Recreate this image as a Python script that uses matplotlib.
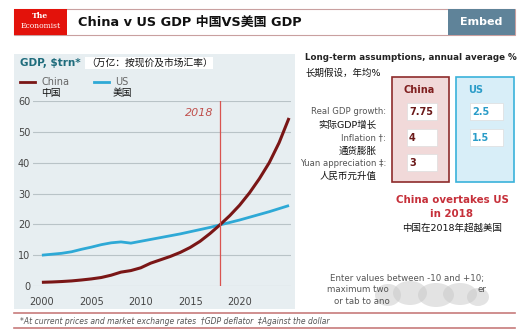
import numpy as np
import matplotlib
matplotlib.use("Agg")
import matplotlib.pyplot as plt
from matplotlib.patches import Rectangle, Ellipse

plt.rcParams['font.family'] = ['DejaVu Sans', 'Noto Sans CJK SC']

W, H = 527, 335

# GDP, $trn, current prices
years = np.arange(2000, 2026)
china_gdp = [1.2, 1.3, 1.45, 1.65, 1.95, 2.3, 2.75, 3.5, 4.5, 5.0,
             5.9, 7.4, 8.5, 9.6, 10.9, 12.5, 14.5, 17.0, 19.8, 22.8,
             26.2, 30.2, 34.8, 40.0, 46.5, 54.5]
us_gdp = [10.0, 10.3, 10.6, 11.1, 11.9, 12.6, 13.4, 14.0, 14.3, 13.9,
          14.5, 15.1, 15.7, 16.3, 16.9, 17.6, 18.3, 19.0, 19.8, 20.6,
          21.4, 22.3, 23.2, 24.1, 25.1, 26.1]
crossover_year = 2018
x_ticks = [2000, 2005, 2010, 2015, 2020]
y_ticks = [0, 10, 20, 30, 40, 50, 60]

# assumption table
row_labels = [("Real GDP growth:", "实际GDP增长"),
              ("Inflation \u2020:", "通货膨胀"),
              ("Yuan appreciation \u2021:", "人民币元升值")]
china_assume = ["7.75", "4", "3"]
us_assume = ["2.5", "1.5"]

RED_DARK = "#7a1616"
CYAN = "#2ea9d6"


def px(x, y):
    return x / W, 1 - y / H


def box(x0, y0, x1, y1, **kw):
    fig.patches.append(Rectangle(px(x0, y1), (x1 - x0) / W, (y1 - y0) / H,
                                 transform=fig.transFigure, **kw))


def hline(x0, x1, y, **kw):
    fig.lines.append(plt.Line2D([x0 / W, x1 / W], [px(0, y)[1]] * 2,
                                transform=fig.transFigure, **kw))


def text(x, y, s, **kw):
    kw.setdefault("va", "center")
    fig.text(*px(x, y), s, **kw)


fig = plt.figure(figsize=(W / 100, H / 100), dpi=100)
fig.patch.set_facecolor("white")

# header bar
box(14, 9, 515, 35, facecolor="white", edgecolor="#c9a0a0", lw=0.8)
box(14, 9, 67, 35, facecolor="#e3120b", edgecolor="none")
text(40.5, 16.5, "The", color="white", fontsize=5.5, family="DejaVu Serif",
     ha="center", weight="bold")
text(40.5, 26, "Economist", color="white", fontsize=5.5, family="DejaVu Serif",
     ha="center")
text(78, 22, "China v US GDP 中国VS美国 GDP", fontsize=9.3, weight="bold",
     color="#111111")
box(448, 9, 515, 35, facecolor="#5f8399", edgecolor="none")
text(481, 22, "Embed", color="white", fontsize=8, weight="bold", ha="center")

# chart panel
box(14, 54, 295, 309, facecolor="#e7eef1", edgecolor="none")
text(20, 63, "GDP, $trn*", color="#1f6c7c", fontsize=7.5, weight="bold")
text(86, 63, "（万亿：按现价及市场汇率）", fontsize=7, color="#111111",
     bbox=dict(facecolor="white", edgecolor="none", pad=0.5))

# legend
hline(20, 35, 82, color=RED_DARK, lw=2)
text(41, 82, "China", fontsize=7, color="#666666")
text(41, 93, "中国", fontsize=7, color="#111111")
hline(94, 109, 82, color=CYAN, lw=2)
text(115, 82, "US", fontsize=7, color="#666666")
text(113, 93, "美国", fontsize=7, color="#111111")

ax = fig.add_axes([33 / W, 1 - 286 / H, (291 - 33) / W, (286 - 101) / H])
ax.set_zorder(3)
ax.set_facecolor("none")
ax.set_xlim(1999.1, 2025.2)
ax.set_ylim(0, 60)
ax.set_xticks(x_ticks)
ax.set_yticks(y_ticks)
ax.yaxis.grid(True, color="#b9c3c7", lw=0.8)
ax.set_axisbelow(True)
for s in ax.spines.values():
    s.set_visible(False)
ax.tick_params(length=0, labelsize=7, labelcolor="#444444")
ax.tick_params(axis="x", pad=8)
ax.tick_params(axis="y", pad=2)

ax.plot(years, us_gdp, color=CYAN, lw=2, solid_capstyle="butt")
ax.plot(years, china_gdp, color=RED_DARK, lw=2.2, solid_capstyle="butt")
ax.axvline(crossover_year, color="#d9534f", lw=0.9)
ax.text(crossover_year - 0.6, 56, str(crossover_year), color="#c0504d",
        fontsize=8, style="italic", ha="right", va="center")

# assumptions panel
text(305, 58, "Long-term assumptions, annual average %", fontsize=6.3,
     weight="bold", color="#222222")
text(305, 73, "长期假设，年均%", fontsize=6.8, color="#111111")

box(392, 77, 449, 182, facecolor="#f1d9d9", edgecolor="#8e2b2b", lw=1.2)
box(456, 77, 514, 182, facecolor="#d8eef8", edgecolor="#3ab2da", lw=1.2)
text(403, 90, "China", fontsize=7, weight="bold", color="#7f1f1f")
text(468, 90, "US", fontsize=7, weight="bold", color="#2a9cc8")

row_y = [112, 138, 163]
for (en, zh), y in zip(row_labels, row_y):
    text(386, y, en, fontsize=6.1, color="#555555", ha="right")
    text(377, y + 13, zh, fontsize=6.8, color="#111111", ha="right")
for val, y in zip(china_assume, row_y):
    box(407, y - 9, 437, y + 8, facecolor="white", edgecolor="#dddddd", lw=0.5)
    text(409, y, val, fontsize=7, weight="bold", color="#6b1a1a")
for val, y in zip(us_assume, row_y):
    box(470, y - 9, 503, y + 8, facecolor="white", edgecolor="#dddddd", lw=0.5)
    text(472, y, val, fontsize=7, weight="bold", color="#2a9cc8")

text(452, 200, "China overtakes US", fontsize=7.4, weight="bold",
     color="#c6303a", ha="center")
text(452, 214, "in 2018", fontsize=7.4, weight="bold", color="#c6303a", ha="center")
text(452, 228, "中国在2018年超越美国", fontsize=6.8, color="#111111", ha="center")

text(407, 278, "Enter values between -10 and +10;", fontsize=6.2,
     color="#555555", ha="center")
text(327, 290, "maximum two", fontsize=6.2, color="#555555")
text(478, 290, "er", fontsize=6.2, color="#555555")
text(334, 302, "or tab to ano", fontsize=6.2, color="#555555")
# smudged-out part of the hint text
for cx, cy, rw, hh in [(388, 295, 26, 22), (410, 293, 34, 24), (436, 295, 36, 24),
                       (460, 294, 34, 22), (478, 297, 22, 18)]:
    fig.patches.append(Ellipse(px(cx, cy), rw / W, hh / H,
                               transform=fig.transFigure,
                               facecolor="#c8c8c8", edgecolor="none", alpha=0.5))

# footnote
hline(14, 515, 313, color="#c77b7b", lw=1.2)
hline(14, 515, 328, color="#c77b7b", lw=1.2)
text(20, 321, "*At current prices and market exchange rates  \u2020GDP deflator  "
     "\u2021Against the dollar", fontsize=5.5, style="italic", color="#555555")

fig.savefig("out.png", dpi=100)
